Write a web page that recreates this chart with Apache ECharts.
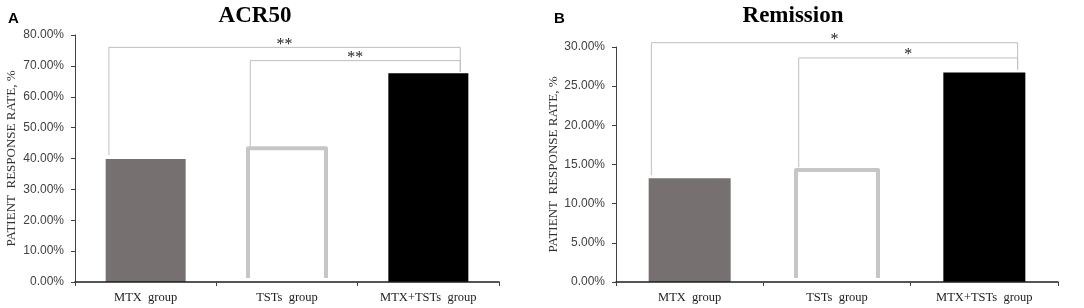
<!DOCTYPE html>
<html>
<head>
<meta charset="utf-8">
<script src="https://cdn.jsdelivr.net/npm/echarts@6/dist/echarts.min.js"></script>
<style>
  html, body { margin: 0; padding: 0; background: #fff; }
  #chart { width: 1084px; height: 308px; }
</style>
</head>
<body>
<div id="chart"></div>
<script>
// 数据
const groups = ['MTX  group', 'TSTs  group', 'MTX+TSTs  group']
const acr50 = [0.398, 0.433, 0.676]
const remission = [0.1325, 0.143, 0.2675]
const ticksA = { max: 0.8, interval: 0.1 }
const ticksB = { max: 0.3, interval: 0.05 }
// 显著性括号: [from, to, top, fromBottom, toBottom]
const bracketsA = [[0, 2, 0.76, 0.411, 0.68], [1, 2, 0.717, 0.44, 0.68]]
const bracketsB = [[0, 2, 0.3055, 0.1365, 0.271], [1, 2, 0.286, 0.1468, 0.271]]
const starsA = ['**', '**']
const starsB = ['*', '*']

const barColors = ['#777070', '#ffffff', '#000000']
const serif = '"Liberation Serif", "Times New Roman", serif'
const sans = '"Liberation Sans", Arial, sans-serif'

const chart = echarts.init(document.getElementById('chart'), null, { renderer: 'canvas' })

function barData(values) {
  return values.map((v, i) => ({ value: v, itemStyle: { color: barColors[i] } }))
}

// 空心柱的三边灰框（底边不画）
function outlineRender(widthPx) {
  return function (params, api) {
    const top = api.coord([api.value(0), api.value(1)])
    const base = api.coord([api.value(0), 0])
    const half = widthPx / 2
    return {
      type: 'polyline',
      shape: { points: [[top[0] - half, base[1] - 4], [top[0] - half, top[1]], [top[0] + half, top[1]], [top[0] + half, base[1] - 4]] },
      style: { stroke: '#c6c6c6', fill: null, lineWidth: 4, lineJoin: 'round' }
    }
  }
}

function bracketRender(labels) {
  return function (params, api) {
    const band = api.size([1, 0])[0]
    const from = api.value(0)
    const to = api.value(1)
    const top = api.value(2)
    const pTop = api.coord([from, top])
    const pFrom = api.coord([from, api.value(3)])
    const pTo = api.coord([to, api.value(4)])
    const xl = pFrom[0] - band * 0.26
    const xr = pTo[0] + band * 0.226
    return {
      type: 'group',
      children: [
        {
          type: 'polyline',
          shape: { points: [[xl, pFrom[1]], [xl, pTop[1]], [xr, pTop[1]], [xr, pTo[1]]] },
          style: { stroke: '#bfbfbf', fill: null, lineWidth: 1 }
        },
        {
          type: 'text',
          style: {
            text: labels[params.dataIndex],
            x: (xl + xr) / 2,
            y: pTop[1] - 3,
            align: 'center',
            verticalAlign: 'middle',
            font: '16px ' + serif,
            fill: '#222'
          }
        }
      ]
    }
  }
}

function yAxisOf(ticks, gridIndex) {
  return {
    type: 'value',
    gridIndex: gridIndex,
    min: 0,
    max: ticks.max,
    interval: ticks.interval,
    name: 'PATIENT  RESPONSE RATE, %',
    nameLocation: 'middle',
    nameGap: gridIndex === 0 ? 57 : 56,
    nameTextStyle: { fontFamily: serif, fontSize: 13, color: '#333' },
    splitLine: { show: false },
    axisLine: { show: true, lineStyle: { color: '#404040', width: 1 } },
    axisTick: { show: true, length: 4, lineStyle: { color: '#404040' } },
    axisLabel: {
      margin: 11,
      fontFamily: sans,
      fontSize: 12,
      color: '#404040',
      formatter: v => (v * 100).toFixed(2) + '%'
    }
  }
}

function xAxisOf(gridIndex) {
  return {
    type: 'category',
    gridIndex: gridIndex,
    data: groups,
    z: 10,
    axisLine: { show: true, lineStyle: { color: '#1e1e1e', width: 1.6 } },
    axisTick: { show: true, length: 4, lineStyle: { color: '#404040' } },
    axisLabel: { margin: 9, fontFamily: serif, fontSize: 12.5, color: '#222' }
  }
}

const option = {
  animation: false,
  backgroundColor: '#ffffff',
  title: [
    { text: 'ACR50', left: 250, top: 0, textAlign: 'center',
      textStyle: { fontFamily: serif, fontWeight: 'bold', fontSize: 23, color: '#000' } },
    { text: 'Remission', left: 788, top: 0, textAlign: 'center',
      textStyle: { fontFamily: serif, fontWeight: 'bold', fontSize: 23, color: '#000' } },
    { text: 'A', left: 3, top: 6,
      textStyle: { fontFamily: sans, fontWeight: 'bold', fontSize: 15, color: '#000' } },
    { text: 'B', left: 549, top: 6,
      textStyle: { fontFamily: sans, fontWeight: 'bold', fontSize: 15, color: '#000' } }
  ],
  grid: [
    { left: 75, right: 585, top: 35, bottom: 26 },
    { left: 616, right: 26, top: 47, bottom: 26 }
  ],
  xAxis: [xAxisOf(0), xAxisOf(1)],
  yAxis: [yAxisOf(ticksA, 0), yAxisOf(ticksB, 1)],
  series: [
    { type: 'bar', xAxisIndex: 0, yAxisIndex: 0, barWidth: 80, data: barData(acr50) },
    { type: 'bar', xAxisIndex: 1, yAxisIndex: 1, barWidth: 82, data: barData(remission) },
    {
      type: 'custom', xAxisIndex: 0, yAxisIndex: 0,
      encode: { x: 0, y: 1 },
      renderItem: outlineRender(78),
      data: [[1, acr50[1]]], z: 4
    },
    {
      type: 'custom', xAxisIndex: 1, yAxisIndex: 1,
      encode: { x: 0, y: 1 },
      renderItem: outlineRender(82),
      data: [[1, remission[1]]], z: 4
    },
    {
      type: 'custom', xAxisIndex: 0, yAxisIndex: 0,
      encode: { x: 0, y: 2 },
      renderItem: bracketRender(starsA),
      data: bracketsA, z: 5
    },
    {
      type: 'custom', xAxisIndex: 1, yAxisIndex: 1,
      encode: { x: 0, y: 2 },
      renderItem: bracketRender(starsB),
      data: bracketsB, z: 5
    }
  ]
}

chart.setOption(option)
</script>
</body>
</html>
